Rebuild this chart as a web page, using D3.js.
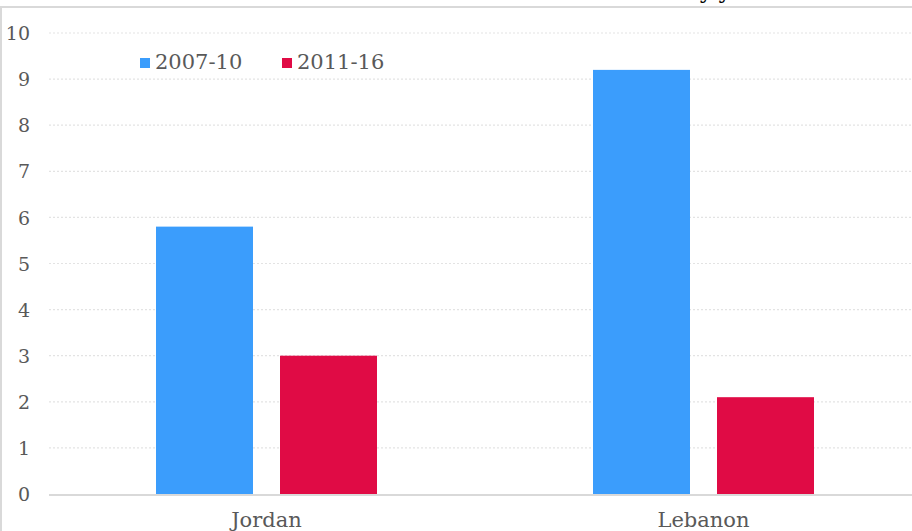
<!DOCTYPE html>
<html>
<head>
<meta charset="utf-8">
<script src="https://cdn.jsdelivr.net/npm/d3@7"></script>
<style>
  html, body { margin: 0; padding: 0; background: #fff; }
  svg { display: block; }
</style>
</head>
<body>
<svg id="chart" width="912" height="531"></svg>
<script>
const categories = ["Jordan", "Lebanon"];
const seriesNames = ["2007-10", "2011-16"];
const series2007 = [5.8, 9.2];
const series2011 = [3.0, 2.1];
const yTicks = [0, 1, 2, 3, 4, 5, 6, 7, 8, 9, 10];
const colors = ["#3B9DFC", "#E00B45"];
const titleText = "by year";

const svg = d3.select("#chart");
const W = 912, H = 531;
const font = "'DejaVu Serif', 'Liberation Serif', serif";

// frame
svg.append("line").attr("x1", 0).attr("x2", W).attr("y1", 7).attr("y2", 7)
  .attr("stroke", "#d9d9d9").attr("stroke-width", 2);
svg.append("line").attr("x1", 1).attr("x2", 1).attr("y1", 7).attr("y2", H)
  .attr("stroke", "#d9d9d9").attr("stroke-width", 2);

// clipped title (only descenders visible in the reference)
svg.append("text").attr("x", 766).attr("y", -1).attr("text-anchor", "end")
  .attr("font-family", font).attr("font-weight", "bold").attr("font-size", 20)
  .attr("fill", "#000").text(titleText);

const x0 = d3.scaleBand().domain(categories).range([48, 922]).padding(0);
const x1 = d3.scaleBand().domain(seriesNames).range([0, 221]).paddingInner(27 / 124);
const y = d3.scaleLinear().domain([0, 10]).range([494, 33]);

// gridlines
svg.append("g").selectAll("line").data(yTicks.filter(d => d > 0)).join("line")
  .attr("x1", 49).attr("x2", W)
  .attr("y1", d => y(d)).attr("y2", d => y(d))
  .attr("stroke", "#e3e3e3").attr("stroke-width", 1.2).attr("stroke-dasharray", "2,2");

// y axis labels
const yAxis = d3.axisLeft(y).tickValues(yTicks).tickSize(0).tickPadding(0).tickFormat(d3.format("d"));
const gy = svg.append("g").attr("transform", "translate(30,0)").call(yAxis);
gy.select(".domain").remove();
gy.selectAll("text").attr("font-family", font).attr("font-size", 19).attr("fill", "#595959").attr("dy", "0.35em");

// bars
const data = categories.map((c, i) => ({ cat: c, vals: [
  { s: seriesNames[0], v: series2007[i] },
  { s: seriesNames[1], v: series2011[i] } ] }));
const groups = svg.append("g").selectAll("g").data(data).join("g")
  .attr("transform", d => `translate(${x0(d.cat) + (x0.bandwidth() - 221) / 2},0)`);
groups.selectAll("rect").data(d => d.vals).join("rect")
  .attr("x", d => x1(d.s)).attr("width", x1.bandwidth())
  .attr("y", d => y(d.v)).attr("height", d => y(0) - y(d.v))
  .attr("fill", (d, i) => colors[i]);

// baseline
svg.append("line").attr("x1", 49).attr("x2", W).attr("y1", y(0) + 1).attr("y2", y(0) + 1)
  .attr("stroke", "#d9d9d9").attr("stroke-width", 2);

// x axis labels
const xAxis = d3.axisBottom(x0).tickSize(0).tickPadding(0);
const gx = svg.append("g").attr("transform", `translate(0,${y(0)})`).call(xAxis);
gx.select(".domain").remove();
gx.selectAll("text").attr("font-family", font).attr("font-size", 21).attr("fill", "#595959")
  .attr("dy", null).attr("y", 33);

// legend
const legendX = [140, 282];
const leg = svg.append("g").selectAll("g").data(seriesNames).join("g")
  .attr("transform", (d, i) => `translate(${legendX[i]},58)`);
leg.append("rect").attr("width", 10).attr("height", 10).attr("fill", (d, i) => colors[i]);
leg.append("text").attr("x", 15).attr("y", 11).attr("font-family", font).attr("font-size", 21)
  .attr("fill", "#595959").text(d => d);
</script>
</body>
</html>
